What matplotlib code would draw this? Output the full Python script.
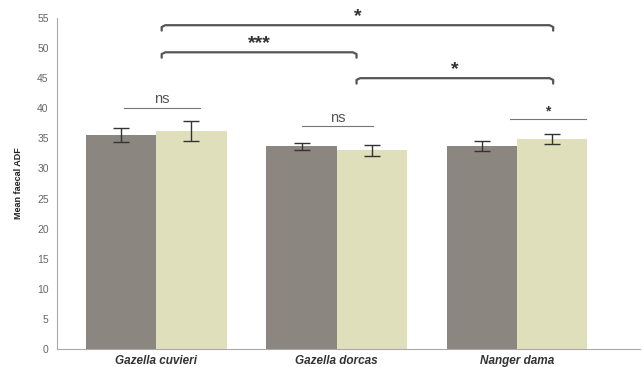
import matplotlib
matplotlib.use("Agg")
import matplotlib.pyplot as plt
import numpy as np

plt.rcParams['font.family'] = ['Liberation Sans', 'DejaVu Sans']

species = ["Gazella cuvieri", "Gazella dorcas", "Nanger dama"]
group_a = [35.6, 33.7, 33.7]
group_a_err = [1.15, 0.6, 0.85]
group_b = [36.2, 33.0, 34.9]
group_b_err = [1.65, 0.95, 0.8]
y_ticks = list(range(0, 56, 5))

# (x0, x1, height, label) for between-species comparisons
brackets = [(0.03, 2.2, 53.8, "*"), (0.03, 1.11, 49.3, "***"), (1.11, 2.2, 45.0, "*")]
# (x0, x1, height, label) for within-species comparisons
pairs = [(-0.18, 0.24, 40.0, "ns"), (0.81, 1.2, 37.0, "ns"), (1.96, 2.38, 38.2, "*")]

dark = "#8c8680"
light = "#dfdfbb"

fig = plt.figure(figsize=(6.43, 3.67), dpi=100)
ax = fig.add_axes([0.0887, 0.049, 0.9063, 0.902])

x = np.arange(len(species))
w = 0.39
ax.bar(x - w / 2, group_a, w, color=dark, zorder=2)
ax.bar(x + w / 2, group_b, w, color=light, zorder=2)
ax.errorbar(x - w / 2, group_a, yerr=group_a_err, fmt="none", ecolor="#333333",
            elinewidth=1.0, capsize=6, capthick=1.0, zorder=3)
ax.errorbar(x + w / 2, group_b, yerr=group_b_err, fmt="none", ecolor="#333333",
            elinewidth=1.0, capsize=6, capthick=1.0, zorder=3)

ax.set_xlim(-0.55, 2.68)
ax.set_ylim(0, 55)
ax.set_yticks(y_ticks)
ax.set_yticklabels([str(t) for t in y_ticks], fontsize=7.5, color="#666666")
ax.set_xticks(x)
ax.set_xticklabels(species, fontsize=8.5, fontstyle="italic", fontweight="bold", color="#333333")
ax.tick_params(axis="y", length=0, pad=6)
ax.tick_params(axis="x", length=0, pad=4)
ax.set_ylabel("Mean faecal ADF", fontsize=6.5, fontweight="bold", color="#222222", labelpad=10)

for s in ["top", "right"]:
    ax.spines[s].set_visible(False)
for s in ["left", "bottom"]:
    ax.spines[s].set_color("#aaaaaa")
    ax.spines[s].set_linewidth(0.8)

for x0, x1, h, lab in brackets:
    ax.plot([x0, x0, x0 + 0.02, x1 - 0.02, x1, x1],
            [h - 0.9, h - 0.3, h, h, h - 0.3, h - 0.9],
            color="#555555", lw=1.6, solid_capstyle="round", clip_on=False)
    ax.text((x0 + x1) / 2, h + 1.5, lab, ha="center", va="center", fontsize=14,
            fontweight="bold", color="#333333", clip_on=False)

for x0, x1, h, lab in pairs:
    ax.plot([x0, x1], [h, h], color="#777777", lw=0.8)
    if lab == "ns":
        ax.text((x0 + x1) / 2, h + 0.3, lab, ha="center", va="bottom", fontsize=10.5,
                color="#555555")
    else:
        ax.text((x0 + x1) / 2, h + 1.2, lab, ha="center", va="center", fontsize=10,
                fontweight="bold", color="#333333")

fig.savefig("out.png", dpi=100, facecolor="white")
